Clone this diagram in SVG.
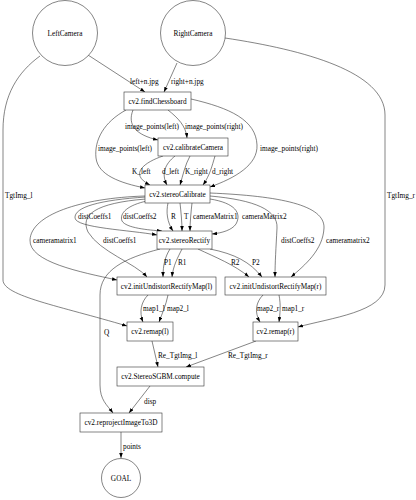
<svg xmlns="http://www.w3.org/2000/svg" width="416" height="500" viewBox="0 0 416 500">
<defs>
<style>
.n{fill:#fff;stroke:#333;stroke-width:0.6}
.e{fill:none;stroke:#333;stroke-width:0.6}
text{font-family:"Liberation Serif","Times New Roman",serif;font-size:7.3px;fill:#000}
.c{text-anchor:middle}
</style>
<marker id="a" markerUnits="userSpaceOnUse" markerWidth="6" markerHeight="4" refX="5" refY="1.8" orient="auto">
<path d="M0,0 L5,1.8 L0,3.6 z" fill="#000"/>
</marker>
</defs>
<rect width="416" height="500" fill="#fff"/>
<g id="connectors">
<path class="e" marker-end="url(#a)" d="M88,55 L145,92"/>
<text x="130" y="83.5">left+n.jpg</text>
<path class="e" marker-end="url(#a)" d="M177,63 L164,92"/>
<text x="171" y="83.5">right+n.jpg</text>
<path class="e" marker-end="url(#a)" d="M40,56 C18,72 3,95 3,130 L3,280 C3,296 60,306 127,326"/>
<text x="5" y="197.5">TgtImg_l</text>
<path class="e" marker-end="url(#a)" d="M225,38 C305,50 385,72 385,115 L385,285 C385,312 330,318 298,327"/>
<text x="387" y="197.5">TgtImg_r</text>
<path class="e" marker-end="url(#a)" d="M133,110 C127,125 136,135 158,140"/>
<text x="125" y="128.5">image_points(left)</text>
<path class="e" marker-end="url(#a)" d="M168,110 C178,118 186,126 187,138"/>
<text x="185" y="128.5">image_points(right)</text>
<path class="e" marker-end="url(#a)" d="M126,110 C104,122 94,140 96,158 C98,175 120,183 145,188"/>
<text x="98" y="150.5">image_points(left)</text>
<path class="e" marker-end="url(#a)" d="M191,99 C230,108 256,120 257,145 C258,165 235,178 210,187"/>
<text x="260" y="150.5">image_points(right)</text>
<path class="e" marker-end="url(#a)" d="M163,156 C145,162 128,174 150,185"/>
<text x="132" y="173.5">K_left</text>
<path class="e" marker-end="url(#a)" d="M175,156 C165,164 161,174 167,185"/>
<text x="162" y="173.5">d_left</text>
<path class="e" marker-end="url(#a)" d="M190,156 C185,165 183,175 180,185"/>
<text x="185" y="173.5">K_right</text>
<path class="e" marker-end="url(#a)" d="M215,156 C212,166 210,175 203,185"/>
<text x="212" y="173.5">d_right</text>
<path class="e" marker-end="url(#a)" d="M146,197 C100,200 74,207 75,218 C76,228 130,230 157,235"/>
<text x="78" y="218.5">distCoeffs1</text>
<path class="e" marker-end="url(#a)" d="M147,201 C128,205 119,213 122,221 C126,228 148,230 162,231"/>
<text x="123" y="218.5">distCoeffs2</text>
<path class="e" marker-end="url(#a)" d="M168,203 C166,212 167,222 173,231"/>
<text x="171" y="218.5">R</text>
<path class="e" marker-end="url(#a)" d="M180,203 C181,212 182,222 182,231"/>
<text x="184" y="218.5">T</text>
<path class="e" marker-end="url(#a)" d="M192,203 C191,212 190,222 190,231"/>
<text x="193" y="218.5">cameraMatrix1</text>
<path class="e" marker-end="url(#a)" d="M210,199 C235,203 242,213 236,224 C232,230 222,233 212,234"/>
<text x="242" y="218.5">cameraMatrix2</text>
<path class="e" marker-end="url(#a)" d="M145,196 C80,198 31,215 30,240 C29,262 80,272 117,280"/>
<text x="33" y="242.5">cameramatrix1</text>
<path class="e" marker-end="url(#a)" d="M146,199 C95,203 80,215 88,232 C100,252 135,263 147,277"/>
<text x="103" y="242.5">distCoeffs1</text>
<path class="e" marker-end="url(#a)" d="M210,196 C255,200 278,210 277,228 C276,248 275,262 275,277"/>
<text x="281" y="242.5">distCoeffs2</text>
<path class="e" marker-end="url(#a)" d="M210,193 C280,196 325,205 324,228 C323,250 305,265 291,277"/>
<text x="326" y="242.5">cameramatrix2</text>
<path class="e" marker-end="url(#a)" d="M170,249 C165,257 163,265 163,277"/>
<text x="164" y="264.5">P1</text>
<path class="e" marker-end="url(#a)" d="M182,249 C178,257 173,266 172,277"/>
<text x="178" y="264.5">R1</text>
<path class="e" marker-end="url(#a)" d="M198,249 C215,257 235,265 249,277"/>
<text x="231" y="264.5">R2</text>
<path class="e" marker-end="url(#a)" d="M210,249 C235,254 250,262 262,277"/>
<text x="252" y="264.5">P2</text>
<path class="e" marker-end="url(#a)" d="M160,249 C125,258 100,270 100,295 L100,385 C100,400 107,405 113,413"/>
<text x="104" y="334.5">Q</text>
<path class="e" marker-end="url(#a)" d="M148,295 C141,302 139,312 143,322"/>
<text x="143" y="310.5">map1_l</text>
<path class="e" marker-end="url(#a)" d="M168,295 C166,305 162,314 159,322"/>
<text x="167" y="310.5">map2_l</text>
<path class="e" marker-end="url(#a)" d="M263,295 C256,302 254,312 260,322"/>
<text x="257" y="310.5">map2_r</text>
<path class="e" marker-end="url(#a)" d="M279,295 C281,305 280,314 279,322"/>
<text x="282" y="310.5">map1_r</text>
<path class="e" marker-end="url(#a)" d="M152,341 L158,367"/>
<text x="158" y="357.5">Re_TgtImg_l</text>
<path class="e" marker-end="url(#a)" d="M256,341 L186,367"/>
<text x="228" y="357.5">Re_TgtImg_r</text>
<path class="e" marker-end="url(#a)" d="M150,386 L129,413"/>
<text x="144" y="403.5">disp</text>
<path class="e" marker-end="url(#a)" d="M121,432 L121,458"/>
<text x="123" y="448.5">points</text>
</g>
<g id="LeftCamera"><circle class="n" cx="65" cy="33" r="32.5"/><text class="c" x="65" y="35.5">LeftCamera</text></g>
<g id="RightCamera"><circle class="n" cx="193" cy="33" r="32.5"/><text class="c" x="193" y="35.5">RightCamera</text></g>
<g id="findChessboard"><rect class="n" x="124" y="92" width="67" height="18"/><text class="c" x="157.5" y="103.5">cv2.findChessboard</text></g>
<g id="calibrateCamera"><rect class="n" x="158" y="138" width="70" height="18"/><text class="c" x="193" y="149.5">cv2.calibrateCamera</text></g>
<g id="stereoCalibrate"><rect class="n" x="145" y="185" width="65" height="18"/><text class="c" x="177.5" y="196.5">cv2.stereoCalibrate</text></g>
<g id="stereoRectify"><rect class="n" x="157" y="231" width="55" height="18"/><text class="c" x="184.5" y="242.5">cv2.stereoRectify</text></g>
<g id="initUndistortRectifyMap_l"><rect class="n" x="117" y="277" width="99" height="18"/><text class="c" x="166.5" y="288.5">cv2.initUndistortRectifyMap(l)</text></g>
<g id="initUndistortRectifyMap_r"><rect class="n" x="225" y="277" width="101" height="18"/><text class="c" x="275.5" y="288.5">cv2.initUndistortRectifyMap(r)</text></g>
<g id="remap_l"><rect class="n" x="127" y="322" width="46" height="19"/><text class="c" x="150" y="334">cv2.remap(l)</text></g>
<g id="remap_r"><rect class="n" x="253" y="322" width="45" height="19"/><text class="c" x="275.5" y="334">cv2.remap(r)</text></g>
<g id="StereoSGBM"><rect class="n" x="117" y="367" width="87" height="19"/><text class="c" x="160.5" y="379">cv2.StereoSGBM.compute</text></g>
<g id="reprojectImageTo3D"><rect class="n" x="80" y="413" width="82" height="19"/><text class="c" x="121" y="425">cv2.reprojectImageTo3D</text></g>
<g id="GOAL"><circle class="n" cx="121" cy="478" r="19.5"/><text class="c" x="121" y="480.5">GOAL</text></g>
</svg>
